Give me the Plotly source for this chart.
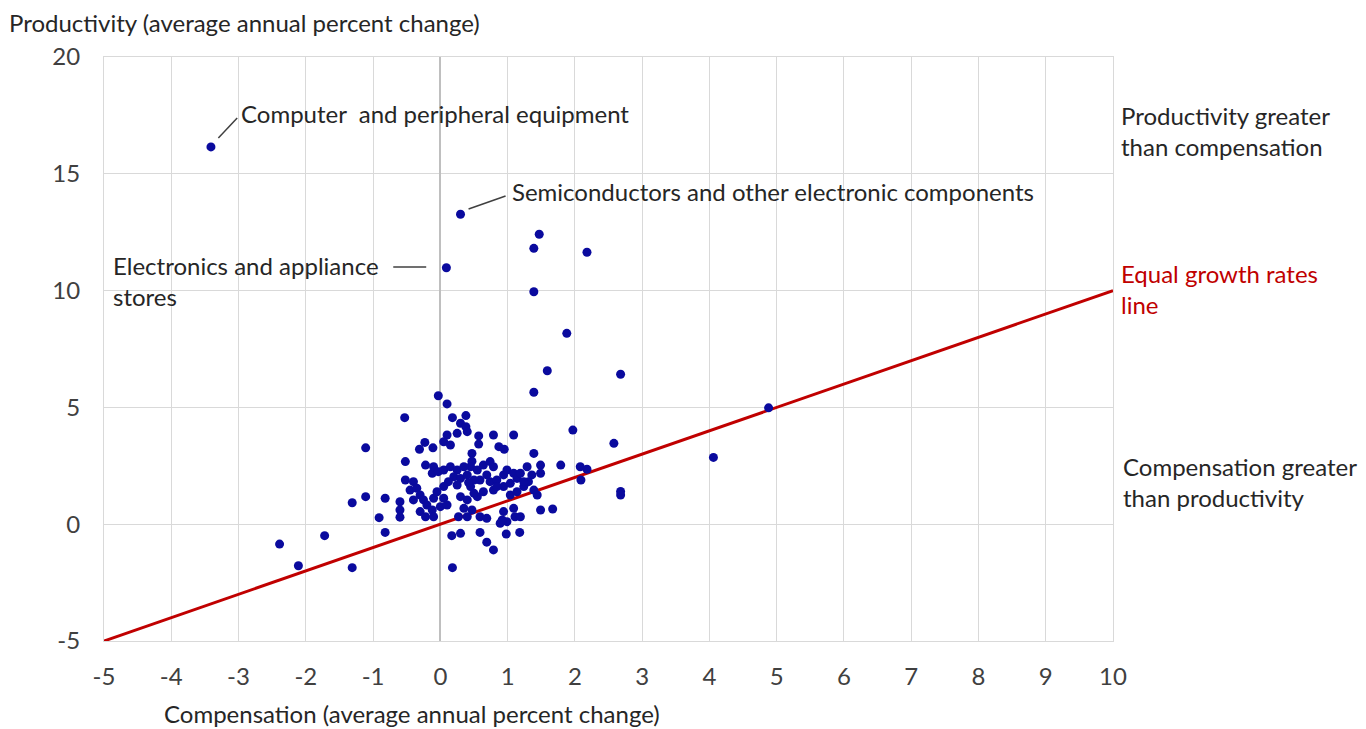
import plotly.graph_objects as go

# Compensation (x) and productivity (y), average annual percent change
comp = [-3.41, 0.30, 1.47, 1.39, 2.18, 0.09, 1.39, 1.88, 1.59, 2.68,
        -0.03, 1.39, 4.88, 0.10, -0.53, 0.18, 0.38, 0.30, 0.38, 1.97,
        2.58, 4.06, -1.11, -0.31, -0.23, -0.11, 0.10, 0.25, 0.40, 0.05,
        0.15, 0.57, 0.57, 0.79, 1.09, 0.87, 0.95, 0.47, 0.47, 1.39,
        -0.52, -0.22, 1.79, 2.08, 2.18, 2.09, 2.68, 2.68, 1.49, 1.67,
        -0.52, -1.11, -1.31, -0.82, -0.60, -0.60, -0.60, -0.91, -0.82, -1.72,
        -2.39, -2.11, -1.31, 0.17, 0.30, 0.59, 0.69, 0.79, 0.98, 1.18,
        0.18, 1.49, 1.49, 1.36, 1.29, 1.44, 0.59, 0.69, 0.94, 1.09,
        1.11, 1.19, 0.99, 0.92, 0.55, 0.64, 0.79, 1.04, 1.14, 1.24,
        1.31, 1.39, 0.45, 0.55, 0.64, 0.74, 0.79, 0.69, 0.59, 0.74,
        0.84, 0.94, 0.99, 1.09, 1.14, 1.19, 1.24, 0.94, 1.04, 0.84,
        0.45, 0.50, -0.12, -0.10, -0.03, 0.05, 0.15, 0.25, 0.35, 0.20,
        0.30, 0.40, 0.42, 0.25, 0.12, -0.40, -0.45, -0.35, -0.30, -0.40,
        -0.25, -0.20, -0.10, -0.05, 0.05, 0.00, -0.12, -0.30, -0.22, -0.10,
        0.05, 0.30, 0.40, 0.50, 0.35, 0.47, 0.27, 0.40, 0.10, 0.89]
prod = [16.15, 13.27, 12.41, 11.81, 11.64, 10.98, 9.95, 8.17, 6.57, 6.42,
        5.50, 5.65, 4.98, 5.15, 4.56, 4.56, 4.65, 4.32, 4.17, 4.03,
        3.46, 2.86, 3.27, 3.21, 3.50, 3.27, 3.82, 3.89, 3.96, 3.53,
        3.39, 3.78, 3.43, 3.82, 3.82, 3.32, 3.21, 3.03, 2.70, 3.03,
        2.68, 2.53, 2.53, 2.46, 2.35, 1.89, 1.40, 1.25, 0.61, 0.65,
        1.89, 1.18, 0.92, 1.11, 0.96, 0.61, 0.30, 0.28, -0.35, -0.49,
        -0.85, -1.78, -1.86, -0.49, -0.39, -0.35, -0.77, -1.10, -0.42, -0.35,
        -1.86, 2.53, 2.18, 2.11, 2.46, 1.25, 0.32, 0.25, 0.54, 0.68,
        0.32, 0.32, 0.11, 0.18, 1.18, 1.39, 1.46, 1.25, 1.39, 1.61,
        1.82, 1.46, 2.46, 2.32, 2.53, 2.68, 2.46, 2.11, 1.89, 1.82,
        1.89, 2.11, 2.32, 2.18, 1.96, 2.18, 1.82, 1.61, 1.75, 1.61,
        1.61, 1.89, 2.18, 2.46, 2.25, 2.32, 2.46, 2.32, 2.46, 2.03,
        1.96, 2.11, 1.78, 1.68, 1.82, 1.82, 1.46, 1.54, 1.25, 1.04,
        1.04, 0.82, 1.11, 1.39, 1.61, 0.75, 0.61, 0.54, 0.32, 0.32,
        1.11, 1.18, 1.04, 1.32, 0.68, 0.61, 0.32, 0.32, 0.82, 0.04]

# Equal growth rates reference line (y = x)
eq_x = [-5, 10]
eq_y = [-5, 10]

x_ticks = list(range(-5, 11))
x_tick_labels = [str(v) for v in x_ticks]
y_ticks = [-5, 0, 5, 10, 15, 20]
y_tick_labels = [str(v) for v in y_ticks]

FONT = "Lato, Open Sans, sans-serif"
FS = 24
TXT = "#262626"

fig = go.Figure()
fig.add_trace(go.Scatter(x=eq_x, y=eq_y, mode="lines",
                         line=dict(color="#C00000", width=3),
                         hoverinfo="skip", showlegend=False))
fig.add_trace(go.Scatter(x=comp, y=prod, mode="markers",
                         marker=dict(color="#0A0A9E", size=9),
                         showlegend=False))

# leader lines
leaders = [((-3.30, 16.53), (-3.02, 17.39)),
           ((0.42, 13.49), (0.97, 14.05)),
           ((-0.70, 11.01), (-0.21, 11.01))]
for (x0, y0), (x1, y1) in leaders:
    fig.add_shape(type="line", x0=x0, y0=y0, x1=x1, y1=y1,
                  line=dict(color="#404040", width=1.5))

ann_font = dict(family=FONT, size=FS, color=TXT)
fig.add_annotation(x=-3.00, y=17.60, text="Computer  and peripheral equipment",
                   showarrow=False, xanchor="left", yanchor="middle", font=ann_font)
fig.add_annotation(x=1.03, y=14.26, text="Semiconductors and other electronic components",
                   showarrow=False, xanchor="left", yanchor="middle", font=ann_font)
fig.add_annotation(x=-4.89, y=10.39, text="Electronics and appliance<br>stores",
                   showarrow=False, xanchor="left", yanchor="middle", align="left", font=ann_font)
fig.add_annotation(xref="paper", x=1.006, y=16.85,
                   text="Productivity greater<br>than compensation",
                   showarrow=False, xanchor="left", yanchor="middle", align="left", font=ann_font)
fig.add_annotation(xref="paper", x=1.006, y=10.09,
                   text="Equal growth rates<br>line",
                   showarrow=False, xanchor="left", yanchor="middle", align="left",
                   font=dict(family=FONT, size=FS, color="#C00000"))
fig.add_annotation(xref="paper", x=1.008, y=1.81,
                   text="Compensation greater<br>than productivity",
                   showarrow=False, xanchor="left", yanchor="middle", align="left", font=ann_font)

# axis titles
fig.add_annotation(xref="paper", yref="paper", x=-0.096, y=1.0, yshift=35,
                   text="Productivity (average annual percent change)",
                   showarrow=False, xanchor="left", yanchor="middle", font=ann_font)
fig.add_annotation(xref="paper", yref="paper", x=0.305, y=0, yshift=-72,
                   text="Compensation (average annual percent change)",
                   showarrow=False, xanchor="center", yanchor="middle", font=ann_font)

fig.update_xaxes(range=[-5, 10], tickvals=x_ticks, ticktext=x_tick_labels, showgrid=True,
                 gridcolor="#D9D9D9", gridwidth=1, zeroline=True,
                 zerolinecolor="#BFBFBF", zerolinewidth=1.5,
                 showline=True, linecolor="#D9D9D9", mirror=True,
                 ticks="", tickfont=dict(family=FONT, size=FS, color="#404040"),
                 ticklabelstandoff=14)
fig.update_yaxes(range=[-5, 20], tickvals=y_ticks, ticktext=y_tick_labels, showgrid=True,
                 gridcolor="#D9D9D9", gridwidth=1, zeroline=False,
                 showline=True, linecolor="#D9D9D9", mirror=True,
                 ticks="", tickfont=dict(family=FONT, size=FS, color="#404040"),
                 ticklabelstandoff=18)

fig.update_layout(width=1358, height=721,
                  margin=dict(l=96, r=253, t=49, b=88),
                  plot_bgcolor="white", paper_bgcolor="white",
                  font=dict(family=FONT))

fig.write_html("out.html")
